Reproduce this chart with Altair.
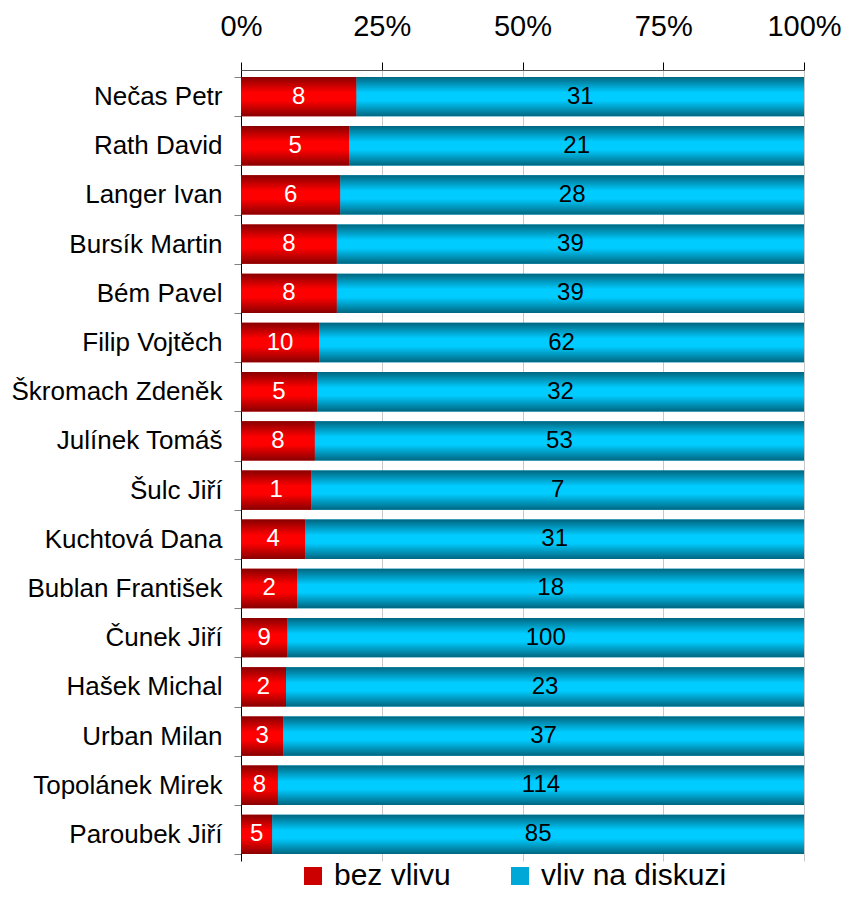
import altair as alt
import pandas as pd

names = ["Nečas Petr", "Rath David", "Langer Ivan", "Bursík Martin", "Bém Pavel",
         "Filip Vojtěch", "Škromach Zdeněk", "Julínek Tomáš", "Šulc Jiří",
         "Kuchtová Dana", "Bublan František", "Čunek Jiří", "Hašek Michal",
         "Urban Milan", "Topolánek Mirek", "Paroubek Jiří"]
bez_vlivu = [8, 5, 6, 8, 8, 10, 5, 8, 1, 4, 2, 9, 2, 3, 8, 5]
vliv_na_diskuzi = [31, 21, 28, 39, 39, 62, 32, 53, 7, 31, 18, 100, 23, 37, 114, 85]
series = ["bez vlivu", "vliv na diskuzi"]
tick_values = [0, 0.25, 0.5, 0.75, 1]

rows = []
for i, n in enumerate(names):
    rows.append({"name": n, "series": series[0], "value": bez_vlivu[i], "ord": 0})
    rows.append({"name": n, "series": series[1], "value": vliv_na_diskuzi[i], "ord": 1})
df = pd.DataFrame(rows)

FONT = "Liberation Sans"

base = alt.Chart(df).transform_stack(
    stack="value", groupby=["name"], as_=["v0", "v1"], offset="normalize",
    sort=[alt.SortField("ord")]
).transform_calculate(mid="(datum.v0 + datum.v1) / 2")

y = alt.Y("name:N", sort=names, title=None,
          scale=alt.Scale(paddingInner=0.2, paddingOuter=0.14),
          axis=alt.Axis(orient="left", labelFontSize=26, labelFont=FONT, labelColor="black",
                        labelPadding=12, tickSize=7, tickBand="extent", tickColor="#808080",
                        domainColor="black", grid=False, labelLimit=0))
x = alt.X("v0:Q", title=None, scale=alt.Scale(domain=[0, 1], nice=False),
          axis=alt.Axis(orient="top", format=".0%", values=tick_values, labelFontSize=29,
                        labelFont=FONT, labelColor="black", labelPadding=21, tickSize=8,
                        tickColor="black", domainColor="#555555", grid=True,
                        gridColor="#c8c8c8", labelFlush=False))
x2 = alt.X2("v1:Q")

legend_layer = base.mark_bar().encode(
    y=y, x=x, x2=x2,
    color=alt.Color("series:N", scale=alt.Scale(domain=series, range=["#cc0000", "#00a8d8"]),
                    legend=alt.Legend(title=None, orient="none", direction="horizontal",
                                      legendX=57, legendY=791, labelFontSize=30, labelFont=FONT,
                                      labelColor="black", symbolType="square", symbolSize=324,
                                      symbolStrokeWidth=0, columnPadding=54, labelOffset=6,
                                      labelLimit=0))
)

red_grad = alt.Gradient(gradient="linear", x1=0, x2=0, y1=0, y2=1, stops=[
    alt.GradientStop(color="#880000", offset=0),
    alt.GradientStop(color="#ff0000", offset=0.4),
    alt.GradientStop(color="#ff0000", offset=0.6),
    alt.GradientStop(color="#880000", offset=1)])
blue_grad = alt.Gradient(gradient="linear", x1=0, x2=0, y1=0, y2=1, stops=[
    alt.GradientStop(color="#006680", offset=0),
    alt.GradientStop(color="#00ccff", offset=0.4),
    alt.GradientStop(color="#00ccff", offset=0.6),
    alt.GradientStop(color="#006680", offset=1)])

red_layer = base.transform_filter("datum.ord == 0").mark_bar(color=red_grad).encode(y=y, x=x, x2=x2)
blue_layer = base.transform_filter("datum.ord == 1").mark_bar(color=blue_grad).encode(y=y, x=x, x2=x2)

text_layer = base.mark_text(fontSize=24, font=FONT).encode(
    y=y, x=alt.X("mid:Q"), text="value:Q",
    color=alt.condition("datum.ord == 0", alt.value("white"), alt.value("black"))
)

chart = alt.layer(legend_layer, red_layer, blue_layer, text_layer).properties(
    width=563, height=791,
    autosize=alt.AutoSizeParams(type="none"),
    padding={"left": 233, "top": 62, "right": 38, "bottom": 30},
    background="white"
).configure_view(strokeWidth=0)

chart.save("out.html", embed_options={"renderer": "svg", "actions": False})
